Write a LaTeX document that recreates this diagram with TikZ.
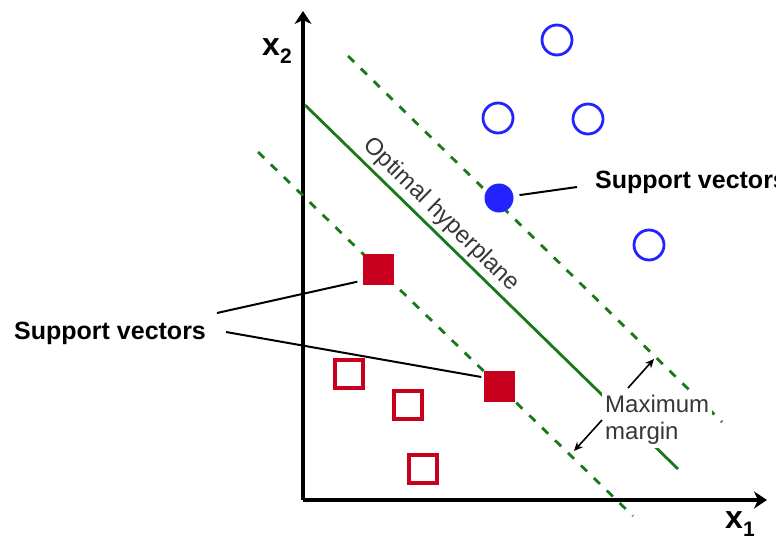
\documentclass[tikz,border=0pt]{standalone}
\usepackage{fontspec}
\setmainfont{Liberation Sans}
\usetikzlibrary{arrows.meta,calc}
\definecolor{svgreen}{RGB}{25,120,25}
\definecolor{svred}{RGB}{200,0,30}
\definecolor{svblue}{RGB}{35,35,255}
\definecolor{txtgray}{RGB}{55,55,55}
\begin{document}
\begin{tikzpicture}[x=1pt,y=-1pt,
  axisline/.style={line width=3.2pt,-{Stealth[length=13pt,width=17pt,inset=4pt]}},
  marginline/.style={svgreen,line width=2.8pt,dash pattern=on 8.5pt off 9.5pt},
  hyperline/.style={svgreen,line width=2.8pt},
  opencirc/.style={circle,draw=svblue,line width=2.8pt,minimum size=30pt,inner sep=0pt},
  fillcirc/.style={circle,fill=svblue,minimum size=29pt,inner sep=0pt},
  opensq/.style={rectangle,draw=svred,line width=3.6pt,minimum size=28.5pt,inner sep=0pt},
  fillsq/.style={rectangle,fill=svred,minimum size=31pt,inner sep=0pt},
  pointer/.style={black,line width=2pt},
  marrow/.style={black,line width=1.6pt,-{Stealth[length=9pt,width=8pt]}},
  svlabel/.style={inner sep=0pt,font=\fontsize{25}{28}\selectfont\bfseries},
  axlabel/.style={inner sep=0pt,font=\fontsize{32}{34}\selectfont\bfseries},
  graylabel/.style={text=txtgray,font=\fontsize{24}{27}\selectfont}
]
\useasboundingbox (0,0) rectangle (776,536);
% axes
\coordinate (orig) at (303,500);
\coordinate (ytip) at (303,11);
\coordinate (xtip) at (767,500);
\draw[axisline] (orig) -- (ytip);
\draw[axisline] (orig) -- (xtip);
\node[axlabel,anchor=base west] (xtwo) at (262,55) {x\raisebox{-8pt}{\fontsize{21}{21}\selectfont 2}};
\node[axlabel,anchor=base west] (xone) at (725,528) {x\raisebox{-8pt}{\fontsize{21}{21}\selectfont 1}};
% lines
\coordinate (hypA) at (305,105); \coordinate (hypB) at (678,469);
\coordinate (upA) at (348,56);   \coordinate (upB) at (722,422);
\coordinate (loA) at (258,152);  \coordinate (loB) at (633,516);
\draw[marginline] (upA) -- (upB);
\draw[marginline] (loA) -- (loB);
\draw[hyperline] (hypA) -- (hypB);
\node[graylabel,rotate=-44.3] (opt) at (441,215) {Optimal hyperplane};
% points
\node[opencirc] (o1) at (557,40) {};
\node[opencirc] (o2) at (498,118) {};
\node[opencirc] (o3) at (588,119) {};
\node[opencirc] (o4) at (649,245) {};
\node[fillcirc] (s1) at (499,198) {};
\node[fillsq] (s2) at (378,269) {};
\node[fillsq] (s3) at (499,386) {};
\node[opensq] (q1) at (349,374) {};
\node[opensq] (q2) at (408,405) {};
\node[opensq] (q3) at (423,469) {};
% labels
\node[svlabel,anchor=base west] (svR) at (595,188) {Support vectors};
\node[svlabel,anchor=base west] (svL) at (14,339) {Support vectors};
\coordinate (pR) at (577,187);
\coordinate (pL1) at (217,313);
\coordinate (pL2) at (226,332);
\draw[pointer,shorten <=6pt] (s1) -- (pR);
\draw[pointer] (pL1) -- ($(s2.south west)+(-5,-3)$);
\draw[pointer] (pL2) -- ($(s3.west)+(-2,-9)$);
% maximum margin
\node[graylabel,fill=white,inner sep=3pt,align=left,anchor=north west] (mm) at (602,392) {Maximum\\margin};
\coordinate (m1a) at (628,388); \coordinate (m1b) at (654,359);
\coordinate (m2a) at (602,420); \coordinate (m2b) at (574,451);
\draw[marrow] (m1a) -- (m1b);
\draw[marrow] (m2a) -- (m2b);
\end{tikzpicture}
\end{document}
